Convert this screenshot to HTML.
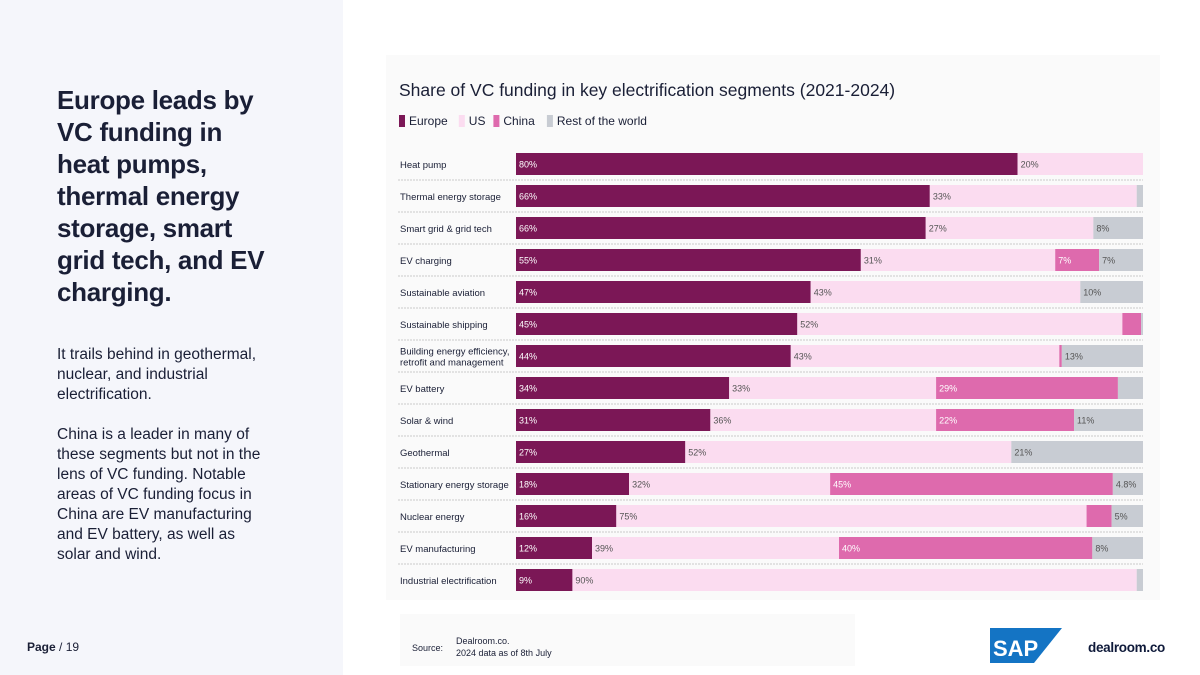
<!DOCTYPE html>
<html><head><meta charset="utf-8"><style>
*{margin:0;padding:0;box-sizing:border-box}
body{width:1200px;height:675px;position:relative;background:#fff;font-family:"Liberation Sans",sans-serif;overflow:hidden}
#left{position:absolute;left:0;top:0;width:343px;height:675px;background:#f5f6fb}
h1{position:absolute;left:57px;top:84px;width:280px;font-size:26px;line-height:32px;font-weight:bold;color:#1a1f36;letter-spacing:-0.3px;white-space:nowrap}
.body{position:absolute;left:57px;top:345px;width:280px;font-size:15.5px;line-height:20px;color:#1a1f36;white-space:nowrap}
#page{position:absolute;left:27px;top:640px;font-size:12px;color:#1a1f36}
#chartbg{position:absolute;left:386px;top:55px;width:774px;height:545px;background:#fafafa}
#srcbg{position:absolute;left:400px;top:614px;width:455px;height:52px;background:#fafafa}
</style></head><body>
<div id="left"></div>
<h1>Europe leads by<br>VC funding in<br>heat pumps,<br>thermal energy<br>storage, smart<br>grid tech, and EV<br>charging.</h1>
<div class="body">It trails behind in geothermal,<br>nuclear, and industrial<br>electrification.<br><br>China is a leader in many of<br>these segments but not in the<br>lens of VC funding. Notable<br>areas of VC funding focus in<br>China are EV manufacturing<br>and EV battery, as well as<br>solar and wind.</div>
<div id="page"><b>Page</b> / 19</div>
<div id="chartbg"></div>
<div id="srcbg"></div>
<svg id="chart" width="1200" height="675" style="position:absolute;left:0;top:0"></svg>
<script>
const categories=["Heat pump","Thermal energy storage","Smart grid & grid tech","EV charging","Sustainable aviation","Sustainable shipping","Building energy efficiency,|retrofit and management","EV battery","Solar & wind","Geothermal","Stationary energy storage","Nuclear energy","EV manufacturing","Industrial electrification"];
const europe=[80,66,66,55,47,45,44,34,31,27,18,16,12,9];
const us=[20,33,27,31,43,52,43,33,36,52,32,75,39,90];
const china=[0,0,0,7,0,3,0.4,29,22,0,45,4,40,0];
const rest=[0,1,8,7,10,0.3,13,4,11,21,4.8,5,8,1];
const seriesNames=["Europe","US","China","Rest of the world"];
const colors=["#7b1756","#fbdcf0","#de6aad","#c8ccd3"];
const textColors=["#fff","#555","#fff","#555"];

const svg=document.getElementById('chart');
const NS='http://www.w3.org/2000/svg';
function mk(t,a,txt){const e=document.createElementNS(NS,t);for(const k in a)e.setAttribute(k,a[k]);if(txt!==undefined)e.textContent=txt;svg.appendChild(e);return e;}
const x0=516,x1=1143,rowY0=153,rowStep=32,barH=22;
const xs=v=>v/100*(x1-x0);
const yRow=i=>rowY0+i*rowStep;

let t=mk('text',{x:399,y:96,'font-size':17.5,fill:'#1a1f36','font-family':'Liberation Sans'},'Share of VC funding in key electrification segments (2021-2024)');

let lx=399;
seriesNames.forEach((n,i)=>{
  const r=mk('rect',{x:lx,y:115,width:6,height:12,fill:colors[i]});
  
  const tx=mk('text',{x:lx+10,y:125,'font-size':12,fill:'#1a1f36'},n);
  
  lx+=10+n.length*6.3+12;
});
const series=[europe,us,china,rest];
categories.forEach((c,i)=>{
  const y=yRow(i);
  const lines=c.split('|');
  lines.forEach((l,k)=>{
    const lt=mk('text',{x:400,y:y+barH/2+4+(lines.length>1?(k-0.5)*11:0),'font-size':9.5,fill:'#1a1f36'},l);
    
  });
  if(i<categories.length-1){
    const g=mk('line',{x1:398,x2:1143,y1:y+barH+5,y2:y+barH+5,stroke:'#bbb','stroke-width':0.7,'stroke-dasharray':'2,1'});
    
  }
  const tot=series.reduce((s,a)=>s+a[i],0);
  let acc=0;
  series.forEach((a,s)=>{
    const v=a[i];if(v<=0)return;
    const w=xs(v/tot*100);
    const r=mk('rect',{x:x0+xs(acc/tot*100),y:y,width:w,height:barH,fill:colors[s]});
    
    
    if(v>=4.5){
      const vt=mk('text',{x:x0+xs(acc/tot*100)+3,y:y+barH/2+3.5,'font-size':9,fill:textColors[s]},v+'%');
      
    }
    acc+=v;
  });
});
let s1=mk('text',{x:412,y:651,'font-size':9,fill:'#1a1f36'},'Source:');

let s2=mk('text',{x:456,y:644,'font-size':9,fill:'#1a1f36'},'Dealroom.co.');

let s3=mk('text',{x:456,y:656,'font-size':9,fill:'#1a1f36'},'2024 data as of 8th July');

let sap=mk('polygon',{points:'990,628 1062,628 1034,663 990,663',fill:'#1474c4'});

let sapt=mk('text',{x:993,y:656,'font-size':22,'font-weight':'bold',fill:'#fff'},'SAP');

let dl=mk('text',{x:1088,y:652,'font-size':13.5,'font-weight':'bold',fill:'#0f1a3a','letter-spacing':'-0.3'},'dealroom.co');

</script>
</body></html>
